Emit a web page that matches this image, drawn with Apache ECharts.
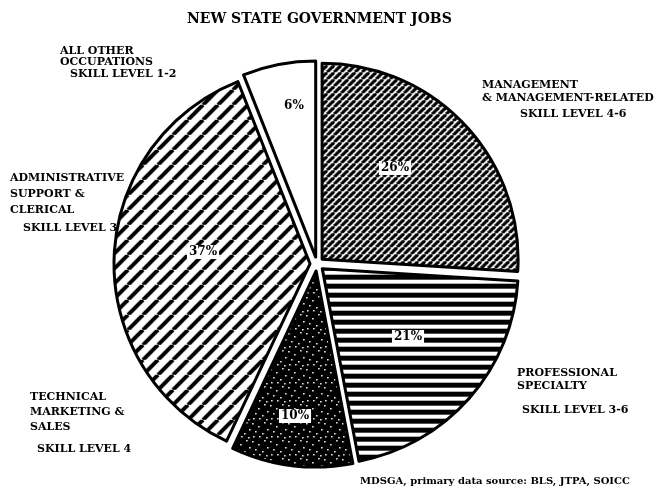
<!DOCTYPE html>
<html lang="en">
<head>
<meta charset="utf-8">
<style type="text/css">
body { margin: 0; background-color: #fff }
#chart { width: 660px; height: 490px; }
</style>
</head>
<body>
<div id="chart"></div>
<script type="text/javascript" src="https://cdn.jsdelivr.net/npm/echarts@6.0.0/dist/echarts.min.js"></script>
<script type="text/javascript">
// slices, clockwise from 12 o'clock
var categories = ['MANAGEMENT\n& MANAGEMENT-RELATED', 'PROFESSIONAL\nSPECIALTY', 'TECHNICAL\nMARKETING &\nSALES', 'ADMINISTRATIVE\nSUPPORT &\nCLERICAL', 'ALL OTHER\nOCCUPATIONS'];
var skillLevels = ['SKILL LEVEL 4-6', 'SKILL LEVEL 3-6', 'SKILL LEVEL 4', 'SKILL LEVEL 3', 'SKILL LEVEL 1-2'];
var shares = [26, 21, 10, 37, 6];

// where the outside texts go: [left, top, lineHeight] and [left, top]
var nameLayout = [[482, 79, 13], [517, 367, 13], [30, 390, 15], [10, 170, 16], [60, 46, 10.5]];
var skillLayout = [[520, 109], [522, 405], [37, 444], [23, 223], [70, 69]];
// percent label centres
var pctLayout = [[395, 168], [408, 337], [295, 416], [203, 252], [294, 106]];

var FONT = '"DejaVu Serif", serif';

/* hatch fills */
function makeCanvas(w, h, bg) {
    var c = document.createElement('canvas');
    c.width = w; c.height = h;
    var ctx = c.getContext('2d');
    ctx.fillStyle = bg;
    ctx.fillRect(0, 0, w, h);
    return c;
}
function diagonal(size, lw) {
    var c = makeCanvas(size, size, '#fff');
    var ctx = c.getContext('2d');
    ctx.strokeStyle = '#000';
    ctx.lineWidth = lw;
    [-size, 0, size].forEach(function (k) {
        ctx.beginPath();
        ctx.moveTo(k, size);
        ctx.lineTo(k + size, 0);
        ctx.stroke();
    });
    return c;
}
function horizontal(period, lw) {
    var c = makeCanvas(8, period, '#fff');
    var ctx = c.getContext('2d');
    ctx.fillStyle = '#000';
    ctx.fillRect(0, 0, 8, lw);
    return c;
}
function speckle() {
    var c = makeCanvas(18, 18, '#000');
    var ctx = c.getContext('2d');
    ctx.fillStyle = '#fff';
    [[1, 2], [7, 5], [13, 1], [4, 10], [11, 12], [16, 8], [8, 15], [15, 16], [2, 15]].forEach(function (p) {
        ctx.fillRect(p[0], p[1], 1.5, 1.5);
    });
    return c;
}
var fills = [
    { image: diagonal(7, 3.2), repeat: 'repeat' },
    { image: horizontal(9, 5), repeat: 'repeat' },
    { image: speckle(), repeat: 'repeat' },
    { image: diagonal(15, 4), repeat: 'repeat' },
    '#fff'
];

var myChart = echarts.init(document.getElementById('chart'));

var graphics = [];
categories.forEach(function (name, i) {
    graphics.push({
        type: 'text', left: nameLayout[i][0], top: nameLayout[i][1],
        style: { text: name, font: 'bold 11px ' + FONT, lineHeight: nameLayout[i][2], fill: '#000' }
    });
    graphics.push({
        type: 'text', left: skillLayout[i][0], top: skillLayout[i][1],
        style: { text: skillLevels[i], font: 'bold 11px ' + FONT, fill: '#000' }
    });
});
graphics.push({
    type: 'text', left: 360, top: 476,
    style: { text: 'MDSGA, primary data source: BLS, JTPA, SOICC', font: 'bold 10px ' + FONT, fill: '#000' }
});

var pieCenter = [317, 264];
var pieRadius = 196;

var option = {
    animation: false,
    title: {
        text: 'NEW STATE GOVERNMENT JOBS',
        left: 187,
        top: 12,
        padding: 0,
        textStyle: { fontFamily: FONT, fontWeight: 'bold', fontSize: 14, color: '#000' }
    },
    graphic: graphics,
    series: [{
        // exploded hatched slices
        type: 'pie',
        center: pieCenter,
        radius: pieRadius,
        startAngle: 90,
        clockwise: true,
        selectedMode: 'multiple',
        selectedOffset: 7,
        emphasis: { disabled: true },
        itemStyle: { borderColor: '#000', borderWidth: 3 },
        select: { itemStyle: { borderColor: '#000', borderWidth: 3 } },
        label: { show: false },
        labelLine: { show: false },
        data: shares.map(function (v, i) {
            return { value: v, name: categories[i], selected: true, itemStyle: { color: fills[i] } };
        })
    }, {
        // same slices, invisible, carrying the percent labels
        type: 'pie',
        center: pieCenter,
        radius: pieRadius,
        startAngle: 90,
        clockwise: true,
        silent: true,
        selectedMode: false,
        emphasis: { disabled: true },
        itemStyle: { color: 'rgba(0,0,0,0)', borderWidth: 0 },
        label: {
            show: true,
            position: 'inside',
            formatter: '{c}%',
            fontFamily: FONT,
            fontWeight: 'bold',
            fontSize: 12,
            color: '#000',
            backgroundColor: '#fff',
            padding: [1, 2]
        },
        labelLine: { show: false },
        labelLayout: function (p) {
            var pos = pctLayout[p.dataIndex];
            return { x: pos[0], y: pos[1], align: 'center', verticalAlign: 'middle' };
        },
        data: shares.map(function (v, i) {
            return { value: v, name: categories[i] };
        })
    }]
};
myChart.setOption(option);
</script>
</body>
</html>
